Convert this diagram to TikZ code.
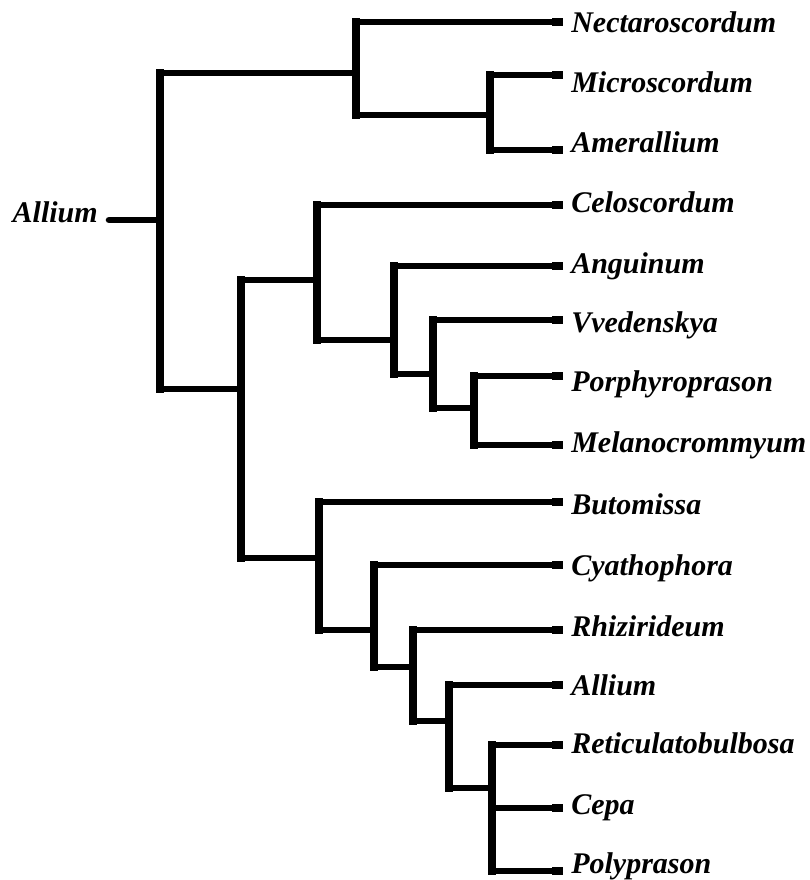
\documentclass[tikz,border=0pt]{standalone}
\usepackage{fontspec}
\setmainfont{Liberation Serif}
\begin{document}
\begin{tikzpicture}[x=0.75pt,y=-0.75pt,
  vline/.style={line width=6.4pt, line cap=rect},
  hline/.style={line width=4.9pt},
  tipline/.style={line width=6pt},
  lab/.style={anchor=base west, inner sep=0pt, font=\fontsize{22.5}{27}\selectfont\bfseries\itshape}]
\useasboundingbox (0,0) rectangle (809,880);

% internal nodes (x = node position, y = where the parent branch attaches)
\coordinate (r)   at (160,220);
\coordinate (rs)  at (109,220);
\coordinate (n1)  at (356,73);
\coordinate (n2)  at (490,115);
\coordinate (n3)  at (241,389);
\coordinate (n4)  at (317,280);
\coordinate (n5)  at (394,340);
\coordinate (n6)  at (433,374);
\coordinate (n7)  at (474,408);
\coordinate (n8)  at (319,558);
\coordinate (n9)  at (374,630);
\coordinate (n10) at (413,667);
\coordinate (n11) at (449,721);
\coordinate (n12) at (492,788);

% leaf line ends
\coordinate (l1)  at (563,22);
\coordinate (l2)  at (563,75);
\coordinate (l3)  at (563,150);
\coordinate (l4)  at (563,205);
\coordinate (l5)  at (563,266);
\coordinate (l6)  at (563,320);
\coordinate (l7)  at (563,376);
\coordinate (l8)  at (563,445);
\coordinate (l9)  at (563,502);
\coordinate (l10) at (563,565);
\coordinate (l11) at (563,630);
\coordinate (l12) at (563,685);
\coordinate (l13) at (563,745);
\coordinate (l14) at (563,808);
\coordinate (l15) at (563,871);

% labels
\node[lab, anchor=base east] (t0) at (98,223) {Allium};
\node[lab] (t1)  at (571,33)  {Nectaroscordum};
\node[lab] (t2)  at (571,93)  {Microscordum};
\node[lab] (t3)  at (571,153) {Amerallium};
\node[lab] (t4)  at (571,213) {Celoscordum};
\node[lab] (t5)  at (571,273) {Anguinum};
\node[lab] (t6)  at (571,332) {Vvedenskya};
\node[lab] (t7)  at (571,391) {Porphyroprason};
\node[lab] (t8)  at (571,452) {Melanocrommyum};
\node[lab] (t9)  at (571,514) {Butomissa};
\node[lab] (t10) at (571,575) {Cyathophora};
\node[lab] (t11) at (571,636) {Rhizirideum};
\node[lab] (t12) at (571,695) {Allium};
\node[lab] (t13) at (571,753) {Reticulatobulbosa};
\node[lab] (t14) at (571,814) {Cepa};
\node[lab] (t15) at (571,873) {Polyprason};

% root
\draw[hline, line cap=round] (rs) -- (r);
\draw[hline] (r |- n1) -- (n1);
\draw[hline] (r |- n3) -- (n3);
\draw[vline] (r |- n1) -- (r |- n3);

% n1
\draw[hline] (n1 |- l1) -- (l1);
\draw[hline] (n1 |- n2) -- (n2);
\draw[vline] (n1 |- l1) -- (n1 |- n2);
% n2
\draw[hline] (n2 |- l2) -- (l2);
\draw[hline] (n2 |- l3) -- (l3);
\draw[vline] (n2 |- l2) -- (n2 |- l3);
% n3
\draw[hline] (n3 |- n4) -- (n4);
\draw[hline] (n3 |- n8) -- (n8);
\draw[vline] (n3 |- n4) -- (n3 |- n8);
% n4
\draw[hline] (n4 |- l4) -- (l4);
\draw[hline] (n4 |- n5) -- (n5);
\draw[vline] (n4 |- l4) -- (n4 |- n5);
% n5
\draw[hline] (n5 |- l5) -- (l5);
\draw[hline] (n5 |- n6) -- (n6);
\draw[vline] (n5 |- l5) -- (n5 |- n6);
% n6
\draw[hline] (n6 |- l6) -- (l6);
\draw[hline] (n6 |- n7) -- (n7);
\draw[vline] (n6 |- l6) -- (n6 |- n7);
% n7
\draw[hline] (n7 |- l7) -- (l7);
\draw[hline] (n7 |- l8) -- (l8);
\draw[vline] (n7 |- l7) -- (n7 |- l8);
% n8
\draw[hline] (n8 |- l9) -- (l9);
\draw[hline] (n8 |- n9) -- (n9);
\draw[vline] (n8 |- l9) -- (n8 |- n9);
% n9
\draw[hline] (n9 |- l10) -- (l10);
\draw[hline] (n9 |- n10) -- (n10);
\draw[vline] (n9 |- l10) -- (n9 |- n10);
% n10
\draw[hline] (n10 |- l11) -- (l11);
\draw[hline] (n10 |- n11) -- (n11);
\draw[vline] (n10 |- l11) -- (n10 |- n11);
% n11
\draw[hline] (n11 |- l12) -- (l12);
\draw[hline] (n11 |- n12) -- (n12);
\draw[vline] (n11 |- l12) -- (n11 |- n12);
% n12
\draw[hline] (n12 |- l13) -- (l13);
\draw[hline] (n12 |- l14) -- (l14);
\draw[hline] (n12 |- l15) -- (l15);
\draw[vline] (n12 |- l13) -- (n12 |- l15);

% thicker leaf tips
\foreach \i in {1,...,15} {
  \draw[tipline] ([xshift=-8.25pt]l\i) -- (l\i);
}
\end{tikzpicture}
\end{document}
